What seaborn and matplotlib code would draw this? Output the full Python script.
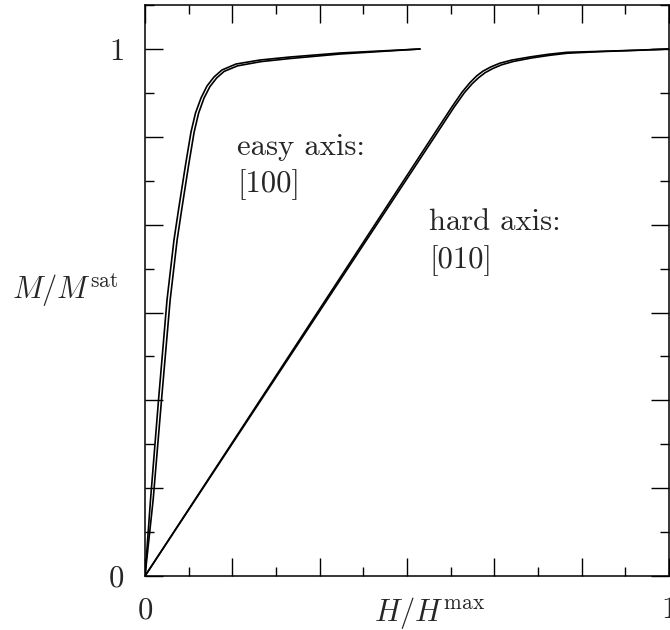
import numpy as np
import pandas as pd
import matplotlib
matplotlib.use("Agg")
import matplotlib.pyplot as plt
import seaborn as sns

# ---- data ----
easy_h_a = [0, 0.0105, 0.0258, 0.042, 0.0553, 0.0639, 0.0773, 0.0878, 0.0964, 0.1069,
            0.1183, 0.1317, 0.1469, 0.1737, 0.2195, 0.2767, 0.3721, 0.5248]
easy_m_a = [0, 0.1442, 0.334, 0.5237, 0.6376, 0.6945, 0.7799, 0.8425, 0.8786, 0.907,
            0.9298, 0.9469, 0.9602, 0.9715, 0.9791, 0.9848, 0.9924, 1.0]
easy_h_b = [0, 0.0155, 0.0315, 0.048, 0.0613, 0.0699, 0.0833, 0.0938, 0.1024, 0.1127,
            0.1238, 0.1367, 0.151, 0.1765, 0.221, 0.2775, 0.3725, 0.5248]
easy_m_b = [0, 0.1442, 0.334, 0.5237, 0.6376, 0.6945, 0.7799, 0.8425, 0.8786, 0.907,
            0.9285, 0.945, 0.9575, 0.968, 0.976, 0.982, 0.9905, 1.0]

hard_h_a = [0, 0.2, 0.4, 0.55, 0.585, 0.605, 0.62, 0.633, 0.645, 0.66, 0.677, 0.70,
            0.735, 0.77, 0.805, 0.868, 0.94, 1.0]
hard_m_a = [0, 0.304, 0.608, 0.836, 0.889, 0.918, 0.936, 0.949, 0.958, 0.966, 0.973, 0.979,
            0.985, 0.990, 0.9937, 0.9955, 0.9978, 1.0]
hard_h_b = [0, 0.2016, 0.4032, 0.5544, 0.5894, 0.6094, 0.6243, 0.6372, 0.649, 0.6638, 0.6805,
            0.7035, 0.738, 0.772, 0.806, 0.868, 0.94, 1.0]
hard_m_b = [0, 0.304, 0.608, 0.836, 0.889, 0.917, 0.934, 0.946, 0.955, 0.963, 0.970, 0.9765,
            0.983, 0.988, 0.992, 0.995, 0.9975, 1.0]

label_easy = ["easy axis:", "[100]"]
label_hard = ["hard axis:", "[010]"]
x_tick_labels = ["0", "", "", "", "", "", "1"]
y_tick_labels = ["0", "", "", "", "", "", "1"]

frames = []
for name, h, m in [("easy_a", easy_h_a, easy_m_a), ("easy_b", easy_h_b, easy_m_b),
                   ("hard_a", hard_h_a, hard_m_a), ("hard_b", hard_h_b, hard_m_b)]:
    frames.append(pd.DataFrame({"H": h, "M": m, "curve": name}))
df = pd.concat(frames, ignore_index=True)

sns.set_style("ticks")
plt.rcParams["font.family"] = ["cmr10", "DejaVu Serif"]
plt.rcParams["mathtext.fontset"] = "cm"
plt.rcParams["axes.formatter.use_mathtext"] = True

fig = plt.figure(figsize=(6.7, 6.3), dpi=100)
ax = fig.add_axes([145 / 670, 54 / 630, 524 / 670, 571 / 630])

sns.lineplot(data=df, x="H", y="M", units="curve", estimator=None, sort=False,
             color="black", linewidth=1.2, ax=ax, legend=False)

ax.set_xlim(0, 1)
ax.set_ylim(0, 571 / 527)

major = np.arange(7) / 6
minor = (np.arange(6) * 2 + 1) / 12
ax.set_xticks(major)
ax.set_xticklabels(x_tick_labels)
ax.set_xticks(minor, minor=True)
ax.set_yticks(major)
ax.set_yticklabels(y_tick_labels)
ax.set_yticks(list(minor) + [13 / 12], minor=True)

ax.tick_params(which="both", direction="in", top=True, right=True, color="black",
               width=1.0, labelsize=22, pad=15)
ax.tick_params(which="major", length=12.7)
ax.tick_params(which="minor", length=6.7)
for s in ax.spines.values():
    s.set_visible(True)
    s.set_linewidth(1.1)
    s.set_color("black")

ax.set_ylabel(r"$M/M^{\mathrm{sat}}$", rotation=0, ha="right", va="center", fontsize=22)
ax.yaxis.set_label_coords(-0.0515, 0.5)
ax.set_xlabel(r"$H/H^{\mathrm{max}}$", ha="center", va="baseline", fontsize=22)
ax.xaxis.set_label_coords(0.544, -0.0785)

ax.text(0.1756, 0.799, label_easy[0], ha="left", va="baseline", fontsize=22)
ax.text(0.1756, 0.729, label_easy[1], ha="left", va="baseline", fontsize=22)
ax.text(0.5426, 0.6566, label_hard[0], ha="left", va="baseline", fontsize=22)
ax.text(0.5426, 0.584, label_hard[1], ha="left", va="baseline", fontsize=22)

fig.savefig("out.png", dpi=100)
